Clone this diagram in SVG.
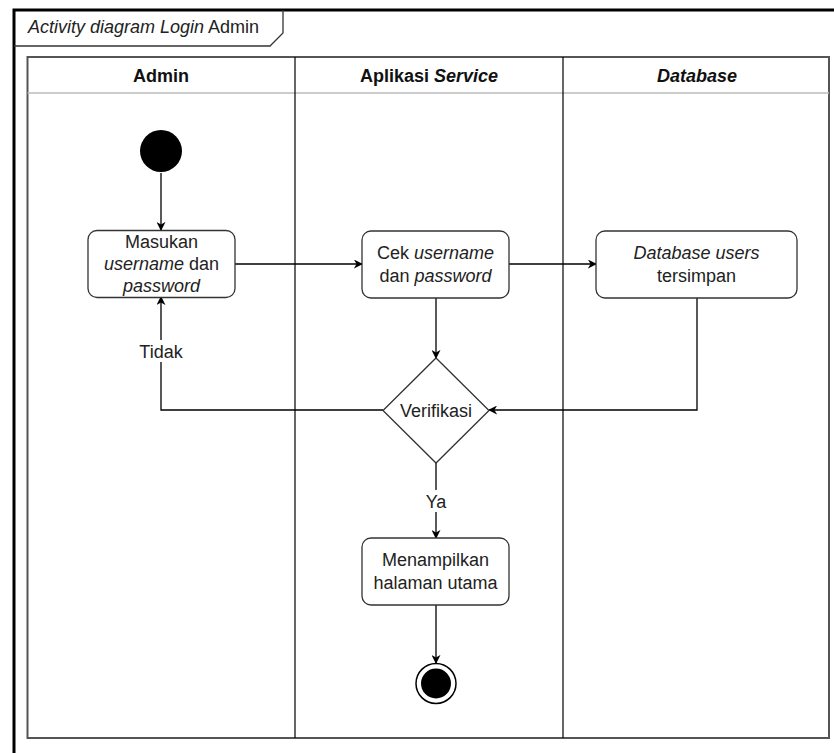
<svg xmlns="http://www.w3.org/2000/svg" width="834" height="753" viewBox="0 0 834 753">
<defs>
<style>
text{font-family:"Liberation Sans",Arial,sans-serif;font-size:18px;fill:#222;text-anchor:middle}
.hd{font-weight:bold;font-size:18px;fill:#111}
.it{font-style:italic}
.box{fill:#fff;stroke:#333;stroke-width:1.3}
.ln{fill:none;stroke:#000;stroke-width:1.3}
</style>
<marker id="ah" viewBox="0 0 10 10" refX="9" refY="5" markerWidth="9" markerHeight="9" markerUnits="userSpaceOnUse" orient="auto">
<path d="M0,0 L10,5 L0,10 L3,5 Z" fill="#000"/>
</marker>
</defs>
<rect width="834" height="753" fill="#fff"/>
<g id="frame">
<path d="M14,753 V10 H834" fill="none" stroke="#000" stroke-width="3"/>
<path d="M14,46 H270 L283,33 V10" fill="none" stroke="#333" stroke-width="1.3"/>
<text x="28" y="33" style="text-anchor:start"><tspan class="it">Activity diagram Login</tspan> Admin</text>
</g>
<g id="lanes">
<rect x="27.5" y="57" width="801.5" height="681" fill="none" stroke="#555" stroke-width="2"/>
<line x1="27.5" y1="93" x2="829" y2="93" stroke="#bbb" stroke-width="1.5"/>
<line x1="295" y1="57" x2="295" y2="738" stroke="#000" stroke-width="1.2"/>
<line x1="563" y1="57" x2="563" y2="738" stroke="#000" stroke-width="1.2"/>
<text class="hd" x="161" y="82">Admin</text>
<text class="hd" x="429" y="82">Aplikasi <tspan class="it">Service</tspan></text>
<text class="hd it" x="697" y="82">Database</text>
</g>
<g id="connectors">
<line class="ln" x1="161" y1="173" x2="161" y2="230" marker-end="url(#ah)"/>
<line class="ln" x1="235" y1="264" x2="362" y2="264" marker-end="url(#ah)"/>
<line class="ln" x1="509" y1="264" x2="596" y2="264" marker-end="url(#ah)"/>
<line class="ln" x1="436" y1="298" x2="436" y2="358" marker-end="url(#ah)"/>
<polyline class="ln" points="697,298 697,410 489,410" marker-end="url(#ah)"/>
<polyline class="ln" points="383,410 161,410 161,297" marker-end="url(#ah)"/>
<rect x="136" y="340" width="50" height="22" fill="#fff"/>
<text x="161" y="358">Tidak</text>
<line class="ln" x1="436" y1="463" x2="436" y2="538" marker-end="url(#ah)"/>
<rect x="423" y="490" width="26" height="22" fill="#fff"/>
<text x="436" y="508">Ya</text>
<line class="ln" x1="436" y1="605" x2="436" y2="663" marker-end="url(#ah)"/>
</g>
<g id="start">
<circle cx="161" cy="151" r="21" fill="#000"/>
</g>
<g id="input">
<rect class="box" x="88" y="230.5" width="147" height="67" rx="9"/>
<text x="161.5" y="248">Masukan</text>
<text x="161.5" y="270"><tspan class="it">username</tspan> dan</text>
<text x="161.5" y="292" class="it">password</text>
</g>
<g id="cek">
<rect class="box" x="362" y="231" width="147" height="67" rx="9"/>
<text x="435.5" y="259">Cek <tspan class="it">username</tspan></text>
<text x="435.5" y="282">dan <tspan class="it">password</tspan></text>
</g>
<g id="db">
<rect class="box" x="596" y="231" width="201" height="67" rx="9"/>
<text x="696.5" y="259" class="it">Database users</text>
<text x="696.5" y="282">tersimpan</text>
</g>
<g id="verifikasi">
<polygon class="box" points="436,358 489,410.5 436,463 383,410.5"/>
<text x="436" y="417">Verifikasi</text>
</g>
<g id="tampil">
<rect class="box" x="362" y="538" width="147" height="67" rx="9"/>
<text x="435.5" y="566">Menampilkan</text>
<text x="435.5" y="589">halaman utama</text>
</g>
<g id="end">
<circle cx="436" cy="683.5" r="20" fill="#fff" stroke="#000" stroke-width="1.5"/>
<circle cx="436" cy="683.5" r="15" fill="#000"/>
</g>
</svg>
